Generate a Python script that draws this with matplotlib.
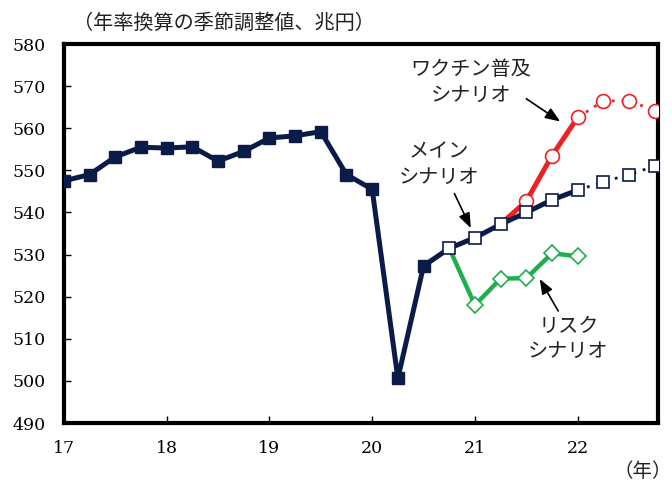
import matplotlib.pyplot as plt

plt.rcParams['font.family'] = ['DejaVu Serif', 'Noto Sans CJK JP']

# quarterly data, x in years (17 = 2017Q1)
actual_x = [17, 17.25, 17.5, 17.75, 18, 18.25, 18.5, 18.75, 19, 19.25, 19.5, 19.75, 20, 20.25, 20.5]
actual_y = [547.5, 549, 553.2, 555.5, 555.3, 555.6, 552.2, 554.5, 557.7, 558.2, 559.2, 549, 545.5, 500.6, 527.3]

main_x = [20.5, 20.75, 21, 21.25, 21.5, 21.75, 22]
main_y = [527.3, 531.5, 534, 537.2, 540, 543, 545.3]
main_ext_x = [22, 22.25, 22.5, 22.75]
main_ext_y = [545.3, 547.3, 549, 551]

vac_x = [21.25, 21.5, 21.75, 22]
vac_y = [537.2, 542.7, 553.5, 562.6]
vac_ext_x = [22, 22.25, 22.5, 22.75]
vac_ext_y = [562.6, 566.5, 566.5, 564.2]

risk_x = [20.5, 20.75, 21, 21.25, 21.5, 21.75, 22]
risk_y = [527.3, 531.5, 518, 524.3, 524.4, 530.3, 529.6]

navy = '#0b1b47'
red = '#ee2024'
green = '#1fae4b'

fig = plt.figure(figsize=(6.72, 4.84), dpi=100)
ax = fig.add_axes([0.095, 0.126, 0.884, 0.783])

# scenario lines
ax.plot(risk_x, risk_y, color=green, lw=3.2, zorder=2)
ax.plot(risk_x[2:], risk_y[2:], ls='none', marker='D', ms=8.5, mfc='white', mec=green, mew=1.2, zorder=5)
ax.plot(vac_x, vac_y, color=red, lw=3.6, zorder=2)
ax.plot(vac_ext_x, vac_ext_y, color=red, lw=2, ls=(0, (1, 2.5)), zorder=2)
ax.plot(vac_x[1:] + vac_ext_x[1:], vac_y[1:] + vac_ext_y[1:], ls='none', marker='o', ms=10,
        mfc='white', mec=red, mew=1.2, zorder=5)
ax.plot(main_x, main_y, color=navy, lw=3.6, zorder=3)
ax.plot(main_ext_x, main_ext_y, color=navy, lw=2, ls=(0, (1, 2.5)), zorder=3)
ax.plot(actual_x, actual_y, color=navy, lw=3.6, marker='s', ms=9, zorder=4)
ax.plot(main_x[1:] + main_ext_x[1:], main_y[1:] + main_ext_y[1:], ls='none', marker='s', ms=9,
        mfc='white', mec=navy, mew=1.2, zorder=6)

ax.set_xlim(17, 22.78)
ax.set_ylim(490, 580)
ax.set_xticks([17, 18, 19, 20, 21, 22])
ax.set_xticklabels(['17', '18', '19', '20', '21', '22'])
ax.set_yticks(range(490, 581, 10))
ax.tick_params(direction='in', length=5, width=1, labelsize=12.5, colors='black')
ax.tick_params(axis='x', pad=12)
ax.tick_params(axis='y', pad=13)
for s in ax.spines.values():
    s.set_linewidth(3)

# annotations
jp = ['Noto Sans CJK JP']
arrow = dict(arrowstyle='-|>,head_width=0.35,head_length=0.9', color='black', lw=1.2, shrinkA=0, shrinkB=0)
ax.text(20.96, 570.8, 'ワクチン普及\nシナリオ', ha='center', va='center', fontsize=14.5, family=jp,
        linespacing=1.3, color='#222222')
ax.annotate('', xy=(21.83, 561.6), xytext=(21.5, 567), arrowprops=arrow)
ax.text(20.65, 551.3, 'メイン\nシナリオ', ha='center', va='center', fontsize=14.5, family=jp,
        linespacing=1.3, color='#222222')
ax.annotate('', xy=(20.96, 536.3), xytext=(20.8, 544.5), arrowprops=arrow)
ax.text(21.91, 510, 'リスク\nシナリオ', ha='center', va='center', fontsize=14.5, family=jp,
        linespacing=1.3, color='#222222')
ax.annotate('', xy=(21.63, 524.2), xytext=(21.81, 516.6), arrowprops=arrow)

fig.text(0.108, 0.952, '（年率換算の季節調整値、兆円）', fontsize=14.5, family=jp, va='center',
         color='#222222')
fig.text(1.0, 0.025, '（年）', fontsize=14, family=jp, ha='right', va='center', color='#222222')

fig.savefig('out.png', dpi=100)
